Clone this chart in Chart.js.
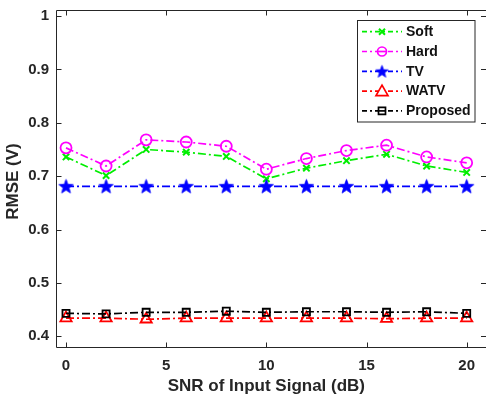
<!DOCTYPE html>
<html>
<head>
<meta charset="utf-8">
<script src="https://cdn.jsdelivr.net/npm/chart.js@4.4.1/dist/chart.umd.min.js"></script>
<style>
html,body{margin:0;padding:0;background:#fff;}
#wrap{width:486px;height:403px;position:relative;}
</style>
</head>
<body>
<div id="wrap"><canvas id="c" width="486" height="403"></canvas></div>
<script>
const snr = [0, 2, 4, 6, 8, 10, 12, 14, 16, 18, 20];
const softRMSE = [0.736, 0.701, 0.750, 0.745, 0.737, 0.695, 0.715, 0.729, 0.741, 0.719, 0.707];
const hardRMSE = [0.753, 0.719, 0.768, 0.764, 0.756, 0.713, 0.733, 0.748, 0.758, 0.736, 0.725];
const tvRMSE = [0.681, 0.681, 0.681, 0.681, 0.681, 0.681, 0.681, 0.681, 0.681, 0.681, 0.681];
const watvRMSE = [0.434, 0.434, 0.432, 0.434, 0.434, 0.434, 0.434, 0.434, 0.433, 0.434, 0.434];
const proposedRMSE = [0.443, 0.442, 0.445, 0.445, 0.447, 0.445, 0.446, 0.446, 0.445, 0.446, 0.443];
const xTicks = [0, 5, 10, 15, 20];
const yTicks = [0.4, 0.5, 0.6, 0.7, 0.8, 0.9, 1];
const yTickLabels = ['0.4', '0.5', '0.6', '0.7', '0.8', '0.9', '1'];
const seriesNames = ['Soft', 'Hard', 'TV', 'WATV', 'Proposed'];

const FONT = "'Liberation Sans', Arial, Helvetica, sans-serif";
const TXT = '#262626';
const DASH = [8, 3, 2, 3];

function starPath(ctx, cx, cy, R, r) {
  ctx.beginPath();
  for (let i = 0; i < 10; i++) {
    const a = -Math.PI / 2 + i * Math.PI / 5;
    const rad = i % 2 === 0 ? R : r;
    const x = cx + rad * Math.cos(a), y = cy + rad * Math.sin(a);
    if (i === 0) ctx.moveTo(x, y); else ctx.lineTo(x, y);
  }
  ctx.closePath();
}
function makeStar(R) {
  const s = Math.ceil(R * 2 + 4);
  const cv = document.createElement('canvas');
  cv.width = s; cv.height = s;
  const c = cv.getContext('2d');
  starPath(c, s / 2, s / 2 + 0.6, R, R * 0.42);
  c.fillStyle = '#0000ff';
  c.fill();
  c.strokeStyle = '#0000ff';
  c.lineWidth = 0.8;
  c.stroke();
  return cv;
}
const starImg = makeStar(7.5);
const starImgSmall = makeStar(6.5);

function toXY(arr) { return arr.map((v, i) => ({x: snr[i], y: v})); }

const ds = (label, data, color, style, radius, extra) => Object.assign({
  label, data: toXY(data), borderColor: color, backgroundColor: 'rgba(0,0,0,0)',
  borderWidth: 1.7, borderDash: DASH, pointStyle: style, pointRadius: radius,
  pointBorderColor: color, pointBackgroundColor: 'rgba(0,0,0,0)', pointBorderWidth: 1.8,
  pointHoverRadius: radius, tension: 0, fill: false
}, extra || {});

const datasets = [
  ds(seriesNames[4], proposedRMSE, '#000000', 'rect', 5),
  ds(seriesNames[3], watvRMSE, '#ff0000', 'triangle', 6.5),
  ds(seriesNames[2], tvRMSE, '#0000ff', starImg, 7.5),
  ds(seriesNames[1], hardRMSE, '#ff00ff', 'circle', 5.5),
  ds(seriesNames[0], softRMSE, '#00ee00', 'crossRot', 4.5, {pointBorderWidth: 2})
];

const L = 56.5, T = 10.5, B = 347.5;

const framePlugin = {
  id: 'frame',
  afterDraw(chart) {
    const ctx = chart.ctx;
    const xs = chart.scales.x, ys = chart.scales.y;
    ctx.save();
    ctx.strokeStyle = TXT;
    ctx.lineWidth = 1;
    ctx.setLineDash([]);
    ctx.beginPath();
    ctx.moveTo(L, T); ctx.lineTo(486, T);
    ctx.moveTo(L, B); ctx.lineTo(486, B);
    ctx.moveTo(L, T); ctx.lineTo(L, B);
    xTicks.forEach(v => {
      const px = Math.round(xs.getPixelForValue(v)) + 0.5;
      ctx.moveTo(px, B); ctx.lineTo(px, B - 5);
      ctx.moveTo(px, T); ctx.lineTo(px, T + 5);
    });
    yTicks.forEach(v => {
      const py = Math.round(ys.getPixelForValue(v)) + 0.5;
      ctx.moveTo(L, py); ctx.lineTo(L + 5, py);
      ctx.moveTo(486, py); ctx.lineTo(481, py);
    });
    ctx.stroke();

    // legend
    const bx = 357.5, by = 20.5, bw = 117.5, bh = 101.5;
    ctx.fillStyle = '#ffffff';
    ctx.fillRect(bx, by, bw, bh);
    ctx.strokeStyle = '#262626';
    ctx.strokeRect(bx, by, bw, bh);
    const items = [
      {name: seriesNames[0], color: '#00ee00', m: 'x'},
      {name: seriesNames[1], color: '#ff00ff', m: 'o'},
      {name: seriesNames[2], color: '#0000ff', m: 'star'},
      {name: seriesNames[3], color: '#ff0000', m: 'tri'},
      {name: seriesNames[4], color: '#000000', m: 'sq'}
    ];
    items.forEach((it, i) => {
      const y = 31.7 + i * 19.8;
      ctx.strokeStyle = it.color;
      ctx.lineWidth = 1.7;
      ctx.setLineDash([5, 3, 2, 3]);
      ctx.beginPath(); ctx.moveTo(362, y); ctx.lineTo(402, y); ctx.stroke();
      ctx.setLineDash([]);
      const cx = 382;
      ctx.lineWidth = 1.7;
      ctx.fillStyle = '#fff';
      if (it.m === 'x') {
        ctx.lineWidth = 2;
        ctx.beginPath();
        ctx.moveTo(cx - 3, y - 3); ctx.lineTo(cx + 3, y + 3);
        ctx.moveTo(cx + 3, y - 3); ctx.lineTo(cx - 3, y + 3);
        ctx.stroke();
      } else if (it.m === 'o') {
        ctx.beginPath(); ctx.arc(cx, y, 4.5, 0, Math.PI * 2); ctx.fill(); ctx.stroke();
        ctx.beginPath(); ctx.moveTo(cx - 4, y); ctx.lineTo(cx + 4, y); ctx.stroke();
      } else if (it.m === 'star') {
        ctx.drawImage(starImgSmall, cx - starImgSmall.width / 2, y - starImgSmall.height / 2);
      } else if (it.m === 'tri') {
        ctx.beginPath();
        ctx.moveTo(cx, y - 6); ctx.lineTo(cx + 6, y + 4.5); ctx.lineTo(cx - 6, y + 4.5); ctx.closePath();
        ctx.fill(); ctx.stroke();
      } else if (it.m === 'sq') {
        ctx.beginPath(); ctx.rect(cx - 3.5, y - 3.5, 7, 7); ctx.fill(); ctx.stroke();
        ctx.beginPath(); ctx.moveTo(cx - 3, y); ctx.lineTo(cx + 3, y); ctx.stroke();
      }
      ctx.fillStyle = '#111111';
      ctx.font = "bold 14px " + FONT;
      ctx.textAlign = 'left';
      ctx.textBaseline = 'middle';
      ctx.fillText(it.name, 406, y + 0.5);
    });
    ctx.restore();
  }
};

new Chart(document.getElementById('c'), {
  type: 'line',
  data: {datasets},
  options: {
    responsive: false,
    animation: false,
    devicePixelRatio: 1,
    clip: false,
    layout: {padding: {top: 10, right: 0, left: 0, bottom: 0}},
    plugins: {legend: {display: false}, tooltip: {enabled: false}},
    scales: {
      x: {
        type: 'linear', min: -0.5, max: 20.5,
        afterBuildTicks: s => { s.ticks = xTicks.map(v => ({value: v})); },
        afterFit: s => { s.height = 56; },
        grid: {display: false, drawTicks: false},
        border: {display: false},
        ticks: {color: TXT, font: {family: FONT, size: 15, weight: 'bold'}, padding: 10,
          callback: v => String(v), maxRotation: 0, autoSkip: false},
        title: {display: true, text: 'SNR of Input Signal (dB)', color: TXT,
          font: {family: FONT, size: 17, weight: 'bold'}, padding: {top: 0, bottom: 6}}
      },
      y: {
        type: 'linear', min: 0.38, max: 1.0,
        afterBuildTicks: s => { s.ticks = yTicks.map(v => ({value: v})); },
        afterFit: s => { s.width = 56; },
        grid: {display: false, drawTicks: false},
        border: {display: false},
        ticks: {color: TXT, font: {family: FONT, size: 15, weight: 'bold'}, padding: 7,
          callback: (v) => { const i = yTicks.findIndex(t => Math.abs(t - v) < 1e-9); return i >= 0 ? yTickLabels[i] : ''; },
          autoSkip: false},
        title: {display: true, text: 'RMSE (V)', color: TXT,
          font: {family: FONT, size: 17, weight: 'bold'}, padding: {top: 3, bottom: 0}}
      }
    }
  },
  plugins: [framePlugin]
});
</script>
</body>
</html>
